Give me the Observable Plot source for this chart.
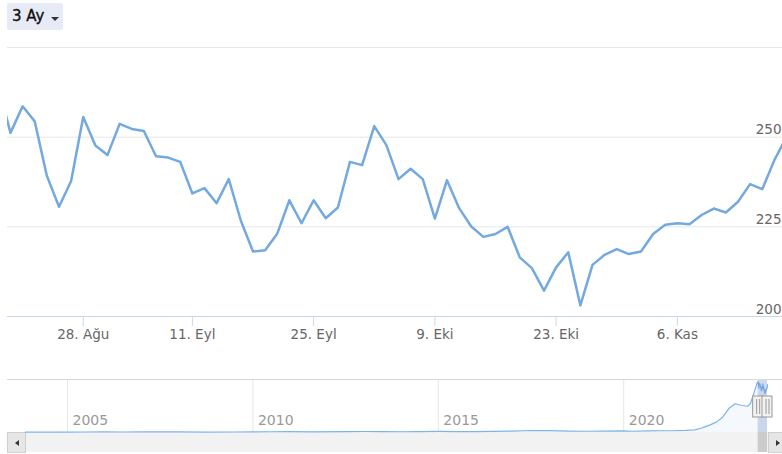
<!DOCTYPE html>
<html><head><meta charset="utf-8">
<script src="https://cdn.jsdelivr.net/npm/d3@7"></script>
<script src="https://cdn.jsdelivr.net/npm/@observablehq/plot@0.6"></script>
<style>
html,body{margin:0;padding:0;width:782px;height:454px;overflow:hidden;background:#fff;font-family:"DejaVu Sans",sans-serif;}
svg{max-width:none !important;background:transparent !important;}
#main{position:absolute;left:7px;top:0;width:775px;height:345px;overflow:hidden;}
#btn{position:absolute;left:7px;top:3px;width:56px;height:27px;background:#e6ebf5;border-radius:2px;z-index:5;}
#btn span{position:absolute;left:5px;top:4px;font-size:15px;line-height:18px;color:#111;-webkit-text-stroke:0.35px #111;}
#btn i{position:absolute;left:44px;top:14px;width:0;height:0;border-left:4px solid transparent;border-right:4px solid transparent;border-top:4px solid #333;}
#navtop{position:absolute;left:7px;top:379px;width:775px;height:1px;background:#d8d8d8;}
#sb{position:absolute;left:7px;top:432px;width:779px;height:20px;background:#f2f2f2;}
.sbbtn{position:absolute;top:0;width:17px;height:19px;background:#e6e6e6;border:1px solid #cfcfcf;}
.sbbtn.l{left:0;}
.sbbtn.r{left:761px;}
.sbbtn b{position:absolute;top:7px;width:0;height:0;border-top:3px solid transparent;border-bottom:3px solid transparent;}
.sbbtn.l b{left:7px;border-right:4px solid #333;}
.sbbtn.r b{left:7px;border-left:4px solid #333;}
#nav{position:absolute;left:0;top:380px;width:782px;height:72px;}
</style></head><body>
<div id="main"></div>
<div id="btn"><span></span><i></i></div>
<div id="navtop"></div>
<div id="sb"><div class="sbbtn l"><b></b></div><div class="sbbtn r"><b></b></div></div>
<div id="nav"></div>
<script>
const rangeLabel = "3 Ay";

const dates = ["2023-08-17","2023-08-18","2023-08-21","2023-08-22","2023-08-23","2023-08-24","2023-08-25","2023-08-28","2023-08-29","2023-08-31",
"2023-09-01","2023-09-04","2023-09-05","2023-09-06","2023-09-07","2023-09-08","2023-09-11","2023-09-12","2023-09-13","2023-09-14",
"2023-09-15","2023-09-18","2023-09-19","2023-09-20","2023-09-21","2023-09-22","2023-09-25","2023-09-26","2023-09-27","2023-09-28",
"2023-09-29","2023-10-02","2023-10-03","2023-10-04","2023-10-05","2023-10-06","2023-10-09","2023-10-10","2023-10-11","2023-10-12",
"2023-10-13","2023-10-16","2023-10-17","2023-10-18","2023-10-19","2023-10-20","2023-10-23","2023-10-24","2023-10-25","2023-10-26",
"2023-10-27","2023-10-30","2023-10-31","2023-11-01","2023-11-02","2023-11-03","2023-11-06","2023-11-07","2023-11-08","2023-11-09",
"2023-11-10","2023-11-13","2023-11-14","2023-11-15","2023-11-16","2023-11-17"];

const prices = [264.2, 251.2, 258.6, 254.4, 239.2, 230.6, 237.8, 255.6, 247.7, 245.0,
 253.7, 252.3, 251.7, 244.7, 244.3, 243.1, 234.3, 235.8, 231.6, 238.3,
 226.7, 218.1, 218.5, 223.1, 232.4, 226.0, 232.4, 227.4, 230.4, 243.1,
 242.2, 253.1, 247.8, 238.3, 241.2, 238.3, 227.3, 238.0, 230.2, 225.1,
 222.2, 223.0, 225.0, 216.5, 213.5, 207.2, 213.7, 217.9, 203.1, 214.4,
 217.2, 218.8, 217.4, 218.1, 223.0, 225.6, 226.0, 225.7, 228.3, 230.1,
 229.0, 232.0, 236.9, 235.5, 243.6, 250.1];

const tickDates = ["2023-08-28","2023-09-11","2023-09-25","2023-10-09","2023-10-23","2023-11-06"];
const tickLabels = ["28. Ağu","11. Eyl","25. Eyl","9. Eki","23. Eki","6. Kas"];
const gridValues = [225, 250, 275];
const yLabelValues = [200, 225, 250];

const navDates = ["2003-11-14","2004-06-01","2005-01-03","2005-07-01","2006-01-02","2006-07-03","2007-01-02","2007-07-02","2008-01-02","2008-10-01",
"2009-07-01","2010-01-04","2010-07-01","2011-01-03","2011-08-01","2012-07-02","2013-01-02","2013-07-01","2014-01-02","2014-07-01",
"2015-01-02","2015-07-01","2016-01-04","2016-07-01","2017-01-02","2017-07-03","2018-01-02","2018-07-02","2019-01-02","2019-07-01",
"2020-01-02","2020-04-01","2020-09-01","2021-01-04","2021-06-01","2021-09-01","2021-12-01","2022-02-01","2022-03-01","2022-05-02",
"2022-07-01","2022-09-01","2022-11-01","2023-01-02","2023-03-01","2023-05-02","2023-06-01","2023-07-03","2023-07-24","2023-08-10"];
const navValues = [1.5, 1.8, 2.0, 2.6, 3.2, 2.6, 3.0, 3.6, 3.1, 1.8,
 2.6, 3.6, 4.0, 4.5, 3.6, 4.2, 5.2, 4.5, 4.0, 5.0,
 5.5, 5.0, 5.0, 6.0, 7.5, 10.5, 9.5, 7.0, 6.5, 7.5,
 8.5, 6.5, 8.0, 9.0, 9.5, 11, 14, 22, 28, 40,
 54, 80, 125, 150, 142, 137, 150, 200, 235, 262];
const yearTicks = [2005, 2010, 2015, 2020];

document.querySelector("#btn span").textContent = rangeLabel;

const parse = d3.utcParse("%Y-%m-%d");
const tickIdx = tickDates.map(d => dates.indexOf(d));
const FONT = '"DejaVu Sans", sans-serif';

const main = Plot.plot({
  width: 793, height: 345,
  marginLeft: 0, marginRight: 14, marginTop: 47, marginBottom: 29,
  style: {fontFamily: FONT, background: "transparent", maxWidth: "none"},
  x: {type: "linear", domain: [0.753, dates.length - 1], axis: null},
  y: {domain: [200, 275], axis: null},
  marks: [
    Plot.ruleY(gridValues, {y: d => d, stroke: "#e6e6e6", strokeWidth: 1}),
    Plot.ruleY([200], {y: d => d, stroke: "#ccd6eb", strokeWidth: 1}),
    Plot.ruleX(tickIdx, {x: d => d, y1: () => 200, y2: () => 200, insetBottom: -10, stroke: "#ccd6eb"}),
    Plot.text(tickIdx, {x: d => d, text: (d, i) => tickLabels[i], frameAnchor: "bottom", dy: 22, fill: "#666", fontSize: 13.5, fontFamily: FONT}),
    Plot.text(yLabelValues, {y: d => d, text: d => String(d), frameAnchor: "right", textAnchor: "end", dx: -5, dy: -7, fill: "#666", fontSize: 13.5, fontFamily: FONT}),
    Plot.line(prices, {x: (d, i) => i, y: d => d, stroke: "#74a9e0", strokeWidth: 2.5, strokeLinejoin: "round", strokeLinecap: "round", clip: true})
  ]
});
document.getElementById("main").appendChild(main);

const navSeries = navDates.map((d, i) => ({date: parse(d), value: navValues[i]}))
  .concat(dates.map((d, i) => ({date: parse(d), value: prices[i]})));
const range = {start: parse(dates[0]), end: parse(dates[dates.length - 1])};
const handles = [range.start, range.end];
const yearDate = y => new Date(Date.UTC(y, 0, 1));

const nav = Plot.plot({
  width: 782, height: 72,
  marginLeft: 25, marginRight: 15, marginTop: 1, marginBottom: 20,
  style: {fontFamily: FONT, background: "transparent", maxWidth: "none"},
  x: {type: "utc", domain: [parse(navDates[0]), range.end], axis: null},
  y: {domain: [0, 266], axis: null},
  marks: [
    Plot.ruleX(yearTicks, {x: yearDate, stroke: "#e6e6e6", insetTop: -1}),
    Plot.text(yearTicks, {x: yearDate, text: d => String(d), frameAnchor: "bottom", textAnchor: "start", dx: 5, dy: -8, fill: "#999", fontSize: 14, fontFamily: FONT}),
    Plot.areaY(navSeries, {x: "date", y: "value", fill: "#7cb5ec", fillOpacity: 0.08}),
    Plot.lineY(navSeries, {x: "date", y: "value", stroke: "#7cb5ec", strokeWidth: 1.2}),
    Plot.rect([range], {x1: "start", x2: "end", insetTop: -1, fill: "#6685c2", fillOpacity: 0.3}),
    Plot.rect([range], {x1: "start", x2: "end", insetTop: 51, insetBottom: -20, fill: "#cccccc"}),
    Plot.rect(handles, {x1: d => d, x2: d => d, insetLeft: -5, insetRight: -5, insetTop: 15, insetBottom: 15, fill: "#f2f2f2", stroke: "#999"}),
    Plot.ruleX(handles, {x: d => d, dx: -1.5, insetTop: 18, insetBottom: 18, stroke: "#999"}),
    Plot.ruleX(handles, {x: d => d, dx: 1.5, insetTop: 18, insetBottom: 18, stroke: "#999"})
  ]
});
document.getElementById("nav").appendChild(nav);
</script>
</body></html>
